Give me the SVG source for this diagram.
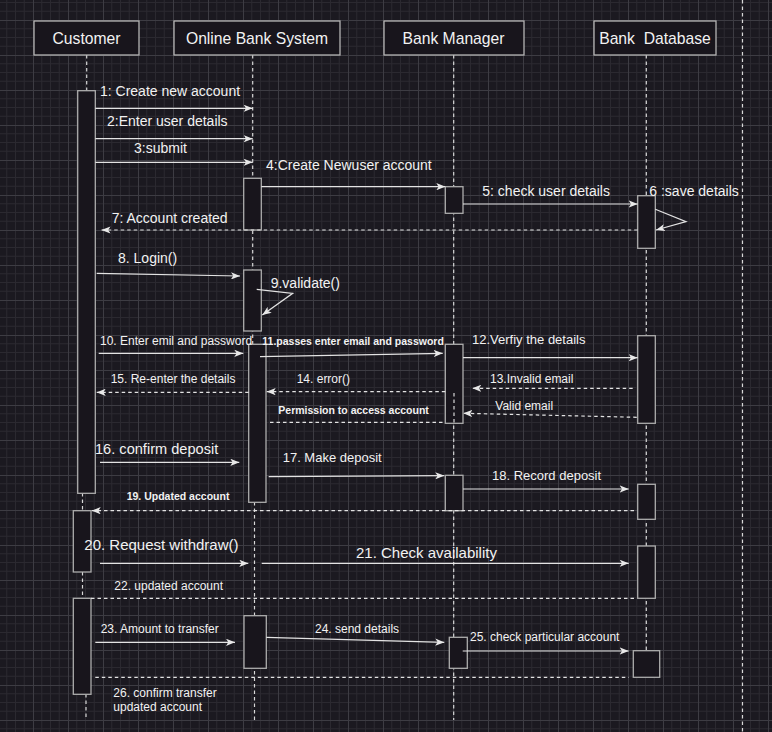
<svg xmlns="http://www.w3.org/2000/svg" width="772" height="732" viewBox="0 0 772 732">
<defs>
<pattern id="grid" x="33" y="20" width="35" height="35" patternUnits="userSpaceOnUse">
<rect width="35" height="35" fill="#1b1920"/>
<path d="M8.75,0V35M17.5,0V35M26.25,0V35M0,8.75H35M0,17.5H35M0,26.25H35" stroke="#2b2930" stroke-width="1" fill="none"/>
<path d="M0.5,0V35M0,0.5H35" stroke="#3d3c43" stroke-width="1" fill="none"/>
</pattern>
<marker id="arr" viewBox="0 0 10 8" refX="10" refY="4" markerWidth="9" markerHeight="7.2" markerUnits="userSpaceOnUse" orient="auto">
<path d="M0,0 L10,4 L0,8 L2.5,4 Z" fill="#e8e8e8"/>
</marker>
</defs>
<style>
.hdr{fill:#18151c;stroke:#b4b4b4;stroke-width:1.3}
.act{fill:#18151c;stroke:#adadad;stroke-width:1.3}
.life{stroke:#d8d8d8;stroke-width:1.2;stroke-dasharray:3.5 3;fill:none}
.t{font-family:"Liberation Sans",Arial,sans-serif;fill:#f2f2f2}
.h{font-size:15.7px;text-anchor:middle}
.m14{font-size:14px}
.m12{font-size:12px}
.m13{font-size:13px}
.m15{font-size:15px}
.sb{font-size:10.5px;font-weight:bold}
.msg{stroke:#e3e3e3;stroke-width:1.2;fill:none;marker-end:url(#arr)}
.ret{stroke:#e3e3e3;stroke-width:1.2;fill:none;stroke-dasharray:3.5 3;marker-end:url(#arr)}
.dl{stroke:#e3e3e3;stroke-width:1.2;fill:none;stroke-dasharray:3.5 3}
</style>
<rect width="772" height="732" fill="url(#grid)"/>
<line x1="742.5" y1="0" x2="742.5" y2="732" class="life"/>

<g id="customer">
<line x1="86.7" y1="55" x2="86.7" y2="91" class="life"/>
<line x1="82.5" y1="493" x2="82.5" y2="511" class="life"/>
<line x1="82.5" y1="572" x2="82.5" y2="598" class="life"/>
<line x1="86" y1="694" x2="86" y2="720" class="life"/>
<rect x="34" y="21" width="105" height="34" class="hdr"/>
<text x="86.5" y="43.5" class="t h">Customer</text>
<rect x="77.7" y="90.7" width="17.6" height="402.6" class="act"/>
<rect x="73.3" y="510.7" width="17.7" height="61.3" class="act"/>
<rect x="73.3" y="598.3" width="17.7" height="96" class="act"/>
</g>

<g id="online-bank-system">
<line x1="252.7" y1="55" x2="252.7" y2="502" class="life"/>
<line x1="254.5" y1="502" x2="254.5" y2="720" class="life"/>
<rect x="174" y="21" width="166" height="34" class="hdr"/>
<text x="257" y="43.5" class="t h">Online Bank System</text>
<rect x="243.7" y="178.3" width="17.6" height="51.7" class="act"/>
<rect x="243.7" y="270" width="17.6" height="61" class="act"/>
<rect x="248.7" y="344.3" width="17.3" height="158" class="act"/>
<rect x="244" y="615.7" width="22.3" height="52.6" class="act"/>
</g>

<g id="bank-manager">
<line x1="453.7" y1="55" x2="453.7" y2="720" class="life"/>
<rect x="384" y="21" width="140" height="34" class="hdr"/>
<text x="453.5" y="43.5" class="t h">Bank Manager</text>
<rect x="445.3" y="186.7" width="17.7" height="26.6" class="act"/>
<rect x="445.3" y="344.3" width="17.7" height="79" class="act"/>
<line x1="454" y1="393" x2="454" y2="423" class="life"/>
<rect x="445.3" y="475.3" width="17.7" height="35.4" class="act"/>
<rect x="449.3" y="637.3" width="18" height="31" class="act"/>
</g>

<g id="bank-database">
<line x1="646.3" y1="55" x2="646.3" y2="677" class="life"/>
<rect x="594" y="21" width="122" height="34" class="hdr"/>
<text x="655" y="43.5" class="t h" xml:space="preserve">Bank  Database</text>
<rect x="637.7" y="195.7" width="17.6" height="52.6" class="act"/>
<rect x="637.7" y="335.7" width="17.6" height="87.6" class="act"/>
<rect x="637.7" y="484.3" width="17.6" height="35" class="act"/>
<rect x="637.7" y="546" width="17.6" height="52.3" class="act"/>
<rect x="633.3" y="650.7" width="26.4" height="26.6" class="act"/>
</g>

<g id="connectors">
<line x1="95.3" y1="108.3" x2="252.7" y2="108.3" class="msg"/>
<line x1="95.3" y1="138.7" x2="252.7" y2="138.7" class="msg"/>
<line x1="95.3" y1="162.3" x2="252.7" y2="162.3" class="msg"/>
<line x1="261.3" y1="186.7" x2="445.3" y2="186.7" class="msg"/>
<line x1="463" y1="204" x2="637.7" y2="204" class="msg"/>
<polyline points="655.3,209.3 686,221.7 656,230" class="msg"/>
<line x1="637.7" y1="230" x2="101.5" y2="230" class="ret"/>
<line x1="96.7" y1="273.3" x2="240" y2="276" class="msg"/>
<polyline points="256.7,289.3 292.7,293.3 262.3,315" class="msg"/>
<line x1="98.7" y1="353.3" x2="243.3" y2="353.3" class="msg"/>
<line x1="260" y1="356.7" x2="442.7" y2="353.3" class="msg"/>
<line x1="463" y1="357.7" x2="637.7" y2="357.7" class="msg"/>
<line x1="632.7" y1="388.3" x2="472.3" y2="388.3" class="ret"/>
<line x1="636.7" y1="417.3" x2="463.3" y2="413.3" class="ret"/>
<line x1="445.3" y1="391.7" x2="266.7" y2="391.7" class="ret"/>
<line x1="248.7" y1="392.3" x2="96.7" y2="392.3" class="ret"/>
<line x1="270" y1="422.3" x2="442.7" y2="422.3" class="dl"/>
<line x1="100" y1="462.3" x2="239.3" y2="462.3" class="msg"/>
<line x1="268.7" y1="476.7" x2="444.3" y2="475.7" class="msg"/>
<line x1="463" y1="489" x2="628.7" y2="489" class="msg"/>
<line x1="634" y1="510.7" x2="91.7" y2="510.7" class="ret"/>
<line x1="100" y1="563.3" x2="248.3" y2="563.3" class="msg"/>
<line x1="261.7" y1="563.3" x2="628.7" y2="563.3" class="msg"/>
<line x1="91" y1="598.3" x2="636.7" y2="598.3" class="dl"/>
<line x1="95.3" y1="642.3" x2="235" y2="642.3" class="msg"/>
<line x1="266.3" y1="637.3" x2="444.3" y2="642.3" class="msg"/>
<line x1="462.7" y1="651" x2="628.7" y2="651" class="msg"/>
<line x1="95.3" y1="677.3" x2="628.7" y2="677.3" class="dl"/>
</g>

<g id="labels">
<text x="100" y="96" class="t m14">1: Create new account</text>
<text x="107" y="126" class="t m14">2:Enter user details</text>
<text x="134" y="153" class="t m14">3:submit</text>
<text x="266" y="170" class="t m14">4:Create Newuser account</text>
<text x="482.3" y="196" class="t m14">5: check user details</text>
<text x="649.3" y="196" class="t m14">6 :save details</text>
<text x="111.7" y="222.7" class="t m14">7: Account created</text>
<text x="118" y="262.5" class="t m14">8. Login()</text>
<text x="270.7" y="288.3" class="t m14">9.validate()</text>
<text x="100" y="345.3" class="t m12">10. Enter emil and password</text>
<text x="262.3" y="345" class="t sb">11.passes enter email and password</text>
<text x="472" y="344.3" class="t m13">12.Verfiy the details</text>
<text x="490" y="383.3" class="t m12">13.Invalid email</text>
<text x="495.3" y="410" class="t m12">Valid email</text>
<text x="296.7" y="383.3" class="t m12">14. error()</text>
<text x="110.7" y="382.7" class="t m12">15. Re-enter the details</text>
<text x="278.3" y="413.7" class="t sb">Permission to access account</text>
<text x="95" y="454.3" class="t" font-size="14.6">16. confirm deposit</text>
<text x="282.7" y="462" class="t m13">17. Make deposit</text>
<text x="492" y="480" class="t m13">18. Record deposit</text>
<text x="126.7" y="500" class="t sb">19. Updated account</text>
<text x="84.3" y="550" class="t m15">20. Request withdraw()</text>
<text x="356" y="558.3" class="t m15">21. Check availability</text>
<text x="114.3" y="590" class="t m12">22. updated account</text>
<text x="100.7" y="632.7" class="t m12">23. Amount to transfer</text>
<text x="315" y="632.7" class="t m12">24. send details</text>
<text x="470" y="641" class="t m12">25. check particular account</text>
<text x="113.3" y="697.3" class="t m12">26. confirm transfer</text>
<text x="113.3" y="711" class="t m12">updated account</text>
</g>
</svg>
